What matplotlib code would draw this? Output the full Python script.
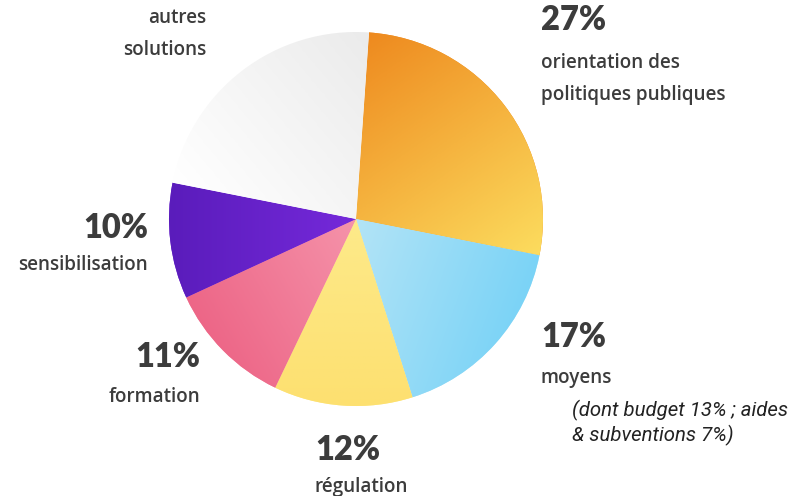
import numpy as np
import matplotlib.pyplot as plt
from matplotlib.colors import LinearSegmentedColormap

# Slice values (percent), clockwise from the top
labels = ["orientation des\npolitiques publiques", "moyens", "régulation",
          "formation", "sensibilisation", "autres\nsolutions"]
values = [27, 17, 12, 11, 10, 23]
pct_text = ["27%", "17%", "12%", "11%", "10%", ""]

# gradient per slice: (start colour, end colour, direction in degrees)
gradients = [
    ("#ee8a1f", "#fcdc5e", -55),
    ("#b3e4f7", "#7ad3f6", -20),
    ("#fdea8a", "#fde070", -90),
    ("#f593aa", "#ed6687", -150),
    ("#7529da", "#5a1cbb", 180),
    ("#ffffff", "#ebebeb", 40),
]

W, H = 798, 496
cx, cy, r = 356, H - 219, 187
dark = "#3c3c3c"

fig = plt.figure(figsize=(W / 100, H / 100), dpi=100)
ax = fig.add_axes([0, 0, 1, 1])

wedges, _ = ax.pie(values, startangle=86, counterclock=False, radius=r,
                   center=(cx, cy), colors=[g[0] for g in gradients],
                   wedgeprops=dict(linewidth=0))

# fill each wedge with a linear gradient clipped to its shape
xs = np.linspace(cx - r, cx + r, 300)
ys = np.linspace(cy - r, cy + r, 300)
gx, gy = np.meshgrid(xs, ys)
for w, (c0, c1, ang) in zip(wedges, gradients):
    a = np.deg2rad(ang)
    d = np.array([np.cos(a), np.sin(a)])
    verts = w.get_path().vertices
    proj = (verts[:, 0] - cx) * d[0] + (verts[:, 1] - cy) * d[1]
    t = (gx - cx) * d[0] + (gy - cy) * d[1]
    cmap = LinearSegmentedColormap.from_list("g", [c0, c1])
    im = ax.imshow(t, cmap=cmap, extent=(cx - r, cx + r, cy - r, cy + r),
                   origin="lower", vmin=proj.min(), vmax=proj.max(), zorder=2)
    im.set_clip_path(w)

ax.set_xlim(0, W)
ax.set_ylim(0, H)
ax.set_aspect("equal")
ax.axis("off")

pfont = dict(family=["Lato", "DejaVu Sans"], fontweight="heavy", fontsize=23.5, color=dark)
lfont = dict(family=["Open Sans", "DejaVu Sans"], fontweight="semibold", fontsize=13.6,
             color=dark, linespacing=1.78)


def place(pct, lab, x, y_pct, y_lab, ha):
    if pct:
        ax.text(x, H - y_pct, pct, ha=ha, va="center", **pfont)
    ax.text(x, H - y_lab, lab, ha=ha, va="center", **lfont)


place(pct_text[0], labels[0], 541, 20, 79, "left")
place(pct_text[1], labels[1], 541, 337, 378, "left")
place(pct_text[2], labels[2], 315, 450, 487, "left")
place(pct_text[3], labels[3], 200, 357, 397, "right")
place(pct_text[4], labels[4], 148, 228, 265, "right")
place(pct_text[5], labels[5], 206, 0, 34, "right")

ax.text(572, H - 423, "(dont budget 13% ; aides\n& subventions 7%)", ha="left",
        va="center", family=["Roboto", "DejaVu Sans"], style="italic",
        fontweight="normal", fontsize=14.7, color="#222222", linespacing=1.2)

fig.savefig("out.png", dpi=100)
